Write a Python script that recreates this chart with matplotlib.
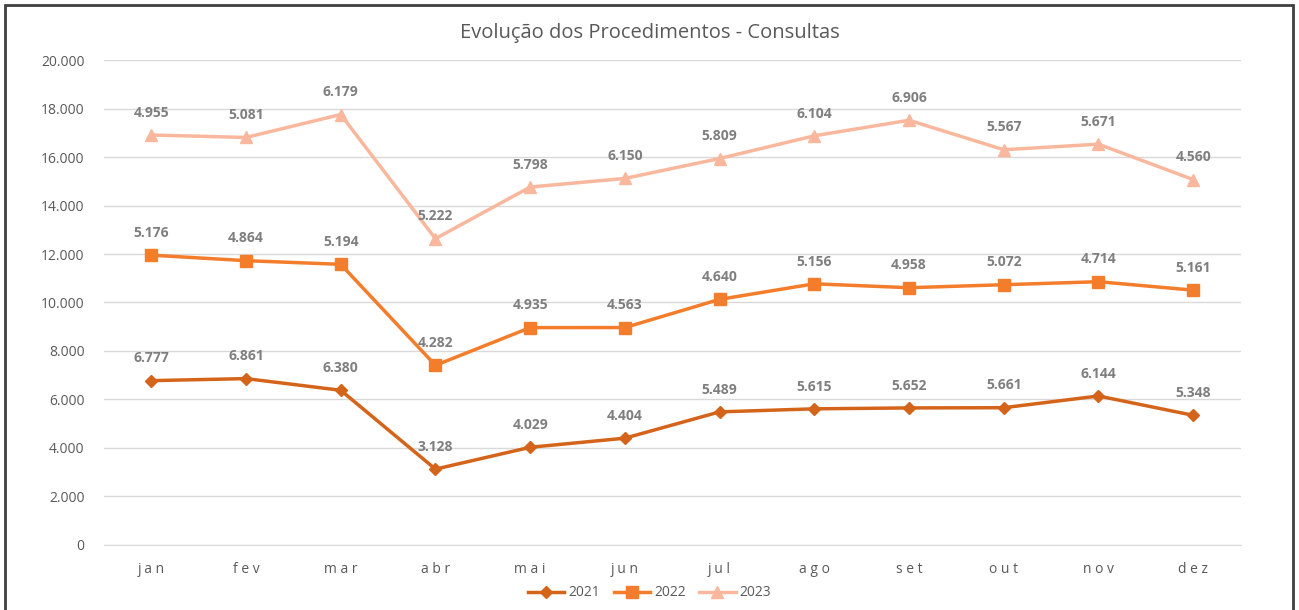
import matplotlib
matplotlib.use("Agg")
import matplotlib.pyplot as plt
import numpy as np
from matplotlib.patches import Rectangle

months = ["jan", "fev", "mar", "abr", "mai", "jun", "jul", "ago", "set", "out", "nov", "dez"]
v2021 = [6777, 6861, 6380, 3128, 4029, 4404, 5489, 5615, 5652, 5661, 6144, 5348]
v2022 = [5176, 4864, 5194, 4282, 4935, 4563, 4640, 5156, 4958, 5072, 4714, 5161]
v2023 = [4955, 5081, 6179, 5222, 5798, 6150, 5809, 6104, 6906, 5567, 5671, 4560]

title = "Evolução dos Procedimentos - Consultas"
series = [("2021", v2021, "#D5641B", "D", 6),
          ("2022", v2022, "#F47D2C", "s", 8),
          ("2023", v2023, "#F9B89D", "^", 8)]

plt.rcParams['font.family'] = ['Open Sans', 'DejaVu Sans']

fig = plt.figure(figsize=(12.99, 6.10), dpi=100)
ax = fig.add_axes([0.080, 0.1066, 0.875, 0.795])

x = np.arange(len(months))
cum = np.zeros(len(months))
for name, vals, col, mk, ms in series:
    cum = cum + np.array(vals)
    ax.plot(x, cum, color=col, lw=2.5, marker=mk, ms=ms, label=name, zorder=3)
    for xi, yi, v in zip(x, cum, vals):
        ax.annotate(f"{v/1000:.3f}", (xi, yi), xytext=(0, 11), textcoords="offset points",
                    ha="center", va="bottom", fontsize=10, fontweight="bold", color="#7F7F7F")

ax.set_xlim(-0.5, 11.5)
ax.set_ylim(0, 20000)
ax.set_yticks(np.arange(0, 20001, 2000))
ax.set_yticklabels(["0"] + [f"{v//1000}.000" for v in range(2000, 20001, 2000)])
ax.set_xticks(x)
ax.set_xticklabels([" ".join(m) for m in months])
ax.tick_params(axis="both", length=0, colors="#595959", labelsize=10)
ax.tick_params(axis="x", pad=12)
ax.tick_params(axis="y", pad=14)
ax.grid(axis="y", color="#D9D9D9", lw=1)
ax.set_axisbelow(True)
for s in ["top", "right", "left"]:
    ax.spines[s].set_visible(False)
ax.spines["bottom"].set_color("#D9D9D9")

fig.text(0.5, 0.946, title, ha="center", va="center", fontsize=14.5, color="#595959")

leg = fig.legend(loc="center", bbox_to_anchor=(0.5, 0.028), ncol=3, frameon=False,
                 fontsize=10, handlelength=2.6, columnspacing=1.0, handletextpad=0.3)
for t in leg.get_texts():
    t.set_color("#595959")

fig.patches.append(Rectangle((5/1299, -0.01), 1288/1299, 1 - 5/610 + 0.01, transform=fig.transFigure,
                             fill=False, edgecolor="#404040", lw=2))

fig.savefig("out.png", dpi=100)
